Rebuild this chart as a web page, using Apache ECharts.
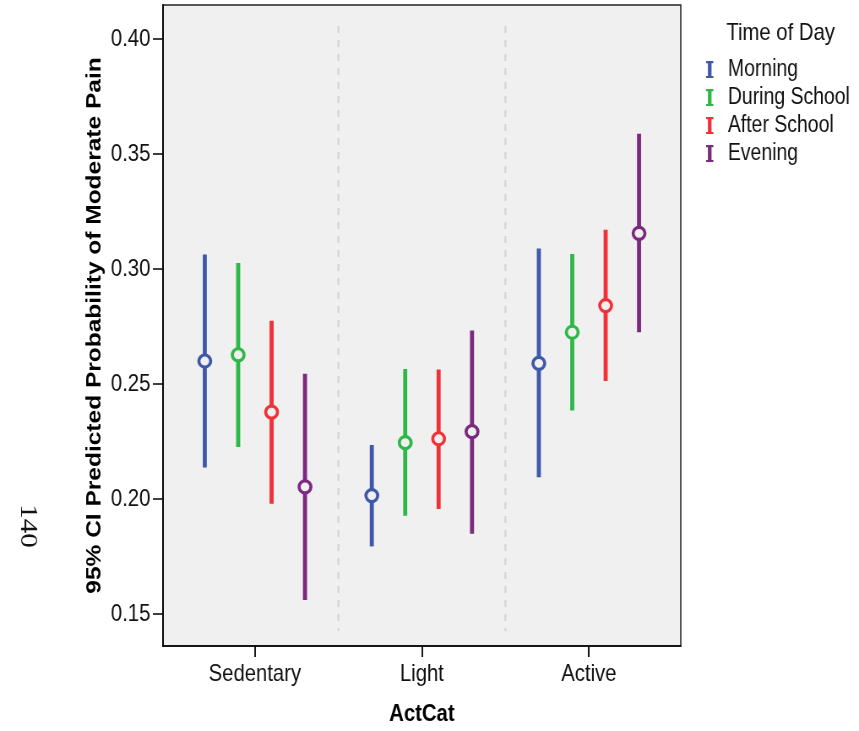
<!DOCTYPE html>
<html>
<head>
<meta charset="utf-8">
<style>
  html, body { margin: 0; padding: 0; background: #ffffff; overflow: hidden; }
  #wrap { width: 859px; height: 731px; overflow: hidden; }
  /* The figure is drawn wide and squeezed horizontally to the page width */
  #chart { width: 1017px; height: 731px; transform: scaleX(0.84464); transform-origin: 0 0; }
</style>
<script src="https://cdn.jsdelivr.net/npm/echarts@6/dist/echarts.min.js"></script>
</head>
<body>
<div id="wrap"><div id="chart"></div></div>
<script>
// Activity categories along the x axis
const categories = ['Sedentary', 'Light', 'Active'];
// Time-of-day groups (legend order)
const timeOfDay = ['Morning', 'During School', 'After School', 'Evening'];
const groupColors = ['#3f58aa', '#2eb848', '#f03238', '#7b2a7f'];

// Predicted probability of moderate pain, with 95% CI bounds, per category
const morningMean = [0.260, 0.2015, 0.259];
const morningLow  = [0.2137, 0.1794, 0.2095];
const morningHigh = [0.3063, 0.2235, 0.3089];

const duringMean = [0.2627, 0.2245, 0.2725];
const duringLow  = [0.2226, 0.1927, 0.2385];
const duringHigh = [0.3026, 0.2565, 0.3065];

const afterMean = [0.2378, 0.2262, 0.2841];
const afterLow  = [0.1980, 0.1957, 0.2513];
const afterHigh = [0.2775, 0.2563, 0.3171];

const eveningMean = [0.2053, 0.2293, 0.3155];
const eveningLow  = [0.1561, 0.1849, 0.2725];
const eveningHigh = [0.2545, 0.2733, 0.3588];

// Y axis tick labels
const yTicks = [0.15, 0.20, 0.25, 0.30, 0.35, 0.40];

const groups = [
  { mean: morningMean, low: morningLow, high: morningHigh },
  { mean: duringMean, low: duringLow, high: duringHigh },
  { mean: afterMean, low: afterLow, high: afterHigh },
  { mean: eveningMean, low: eveningLow, high: eveningHigh }
];

const sans = '"Liberation Sans", Arial, Helvetica, sans-serif';
const plotBg = '#f0f0f0';
const yMin = 0.13611, yMax = 0.41476;
const catIdx = categories.map((c, i) => i);
const groupStep = 0.2;

const series = [];

// Dashed separators between categories
series.push({
  type: 'custom',
  silent: true,
  z: 1,
  data: categories.slice(1).map((c, i) => [i + 0.5]),
  renderItem: function (params, api) {
    const x = api.value(0);
    const top = api.coord([x, yMax]);
    const bot = api.coord([x, yMin]);
    return {
      type: 'line',
      shape: { x1: top[0], y1: top[1] + 21, x2: bot[0], y2: bot[1] - 15 },
      style: { stroke: '#d4d4d4', lineWidth: 2.2, lineDash: [7, 7] }
    };
  }
});

groups.forEach((g, s) => {
  const off = (s - (groups.length - 1) / 2) * groupStep;
  const col = groupColors[s];
  // Confidence interval bars
  series.push({
    name: timeOfDay[s],
    type: 'custom',
    z: 3,
    data: categories.map((c, i) => [i + off, g.low[i], g.high[i]]),
    encode: { x: 0, y: [1, 2] },
    renderItem: function (params, api) {
      const x = api.value(0);
      const lo = api.coord([x, api.value(1)]);
      const hi = api.coord([x, api.value(2)]);
      return {
        type: 'line',
        shape: { x1: lo[0], y1: lo[1], x2: hi[0], y2: hi[1] },
        style: { stroke: col, lineWidth: 4.8, lineCap: 'butt' }
      };
    }
  });
  // Point estimates
  series.push({
    name: timeOfDay[s],
    type: 'scatter',
    z: 4,
    symbol: 'circle',
    symbolSize: [14, 12],
    itemStyle: { color: plotBg, borderColor: col, borderWidth: 3.4, opacity: 1 },
    data: categories.map((c, i) => [i + off, g.mean[i]])
  });
});

const chart = echarts.init(document.getElementById('chart'), null, { renderer: 'canvas' });
chart.setOption({
  animation: false,
  backgroundColor: '#ffffff',
  title: {
    text: 'Time of Day',
    left: 855,
    top: 16,
    textStyle: { fontFamily: sans, fontSize: 24, fontWeight: 'normal', color: '#111' }
  },
  legend: {
    orient: 'vertical',
    left: 831,
    top: 53,
    itemWidth: 9,
    itemHeight: 17,
    itemGap: 5,
    selectedMode: false,
    textStyle: { fontFamily: sans, fontSize: 23, color: '#111', padding: [0, 0, 0, 12] },
    data: timeOfDay.map((n, i) => ({
      name: n,
      icon: 'path://M0,0H8V2H6V14H8V16H0V14H2V2H0Z',
      itemStyle: { color: groupColors[i], borderWidth: 0 }
    }))
  },
  grid: {
    left: 193, right: 211, top: 5, bottom: 84,
    show: true,
    backgroundColor: plotBg,
    borderColor: '#222',
    borderWidth: 1.5
  },
  xAxis: {
    type: 'value',
    min: -0.55,
    max: 2.55,
    name: 'ActCat',
    nameLocation: 'middle',
    nameGap: 56,
    nameTextStyle: { fontFamily: sans, fontSize: 24, fontWeight: 'bold', color: '#000' },
    splitLine: { show: false },
    axisLine: { show: true, onZero: false, lineStyle: { color: '#000', width: 1.5 } },
    axisTick: { show: true, customValues: catIdx, length: 11, lineStyle: { color: '#000', width: 1.8 } },
    axisLabel: {
      customValues: catIdx,
      margin: 16,
      fontFamily: sans,
      fontSize: 24,
      color: '#111',
      formatter: v => categories[Math.round(v)]
    }
  },
  yAxis: {
    type: 'value',
    min: yMin,
    max: yMax,
    name: '95% CI Predicted Probability of Moderate Pain',
    nameLocation: 'middle',
    nameGap: 68,
    nameMoveOverlap: false,
    nameTextStyle: { fontFamily: sans, fontSize: 24.5, fontWeight: 'bold', color: '#000' },
    splitLine: { show: false },
    axisLine: { show: true, onZero: false, lineStyle: { color: '#000', width: 1.8 } },
    axisTick: { show: true, customValues: yTicks, length: 12, lineStyle: { color: '#000', width: 1.5 } },
    axisLabel: {
      customValues: yTicks,
      margin: 15,
      fontFamily: sans,
      fontSize: 24,
      color: '#111',
      formatter: v => v.toFixed(2)
    }
  },
  graphic: [{
    type: 'text',
    x: 33,
    y: 526,
    rotation: -Math.PI / 2,
    style: {
      text: '140',
      fontFamily: '"Liberation Serif", "Times New Roman", serif',
      fontSize: 29,
      fill: '#111',
      align: 'center',
      verticalAlign: 'middle'
    }
  }],
  series: series
});
</script>
</body>
</html>
